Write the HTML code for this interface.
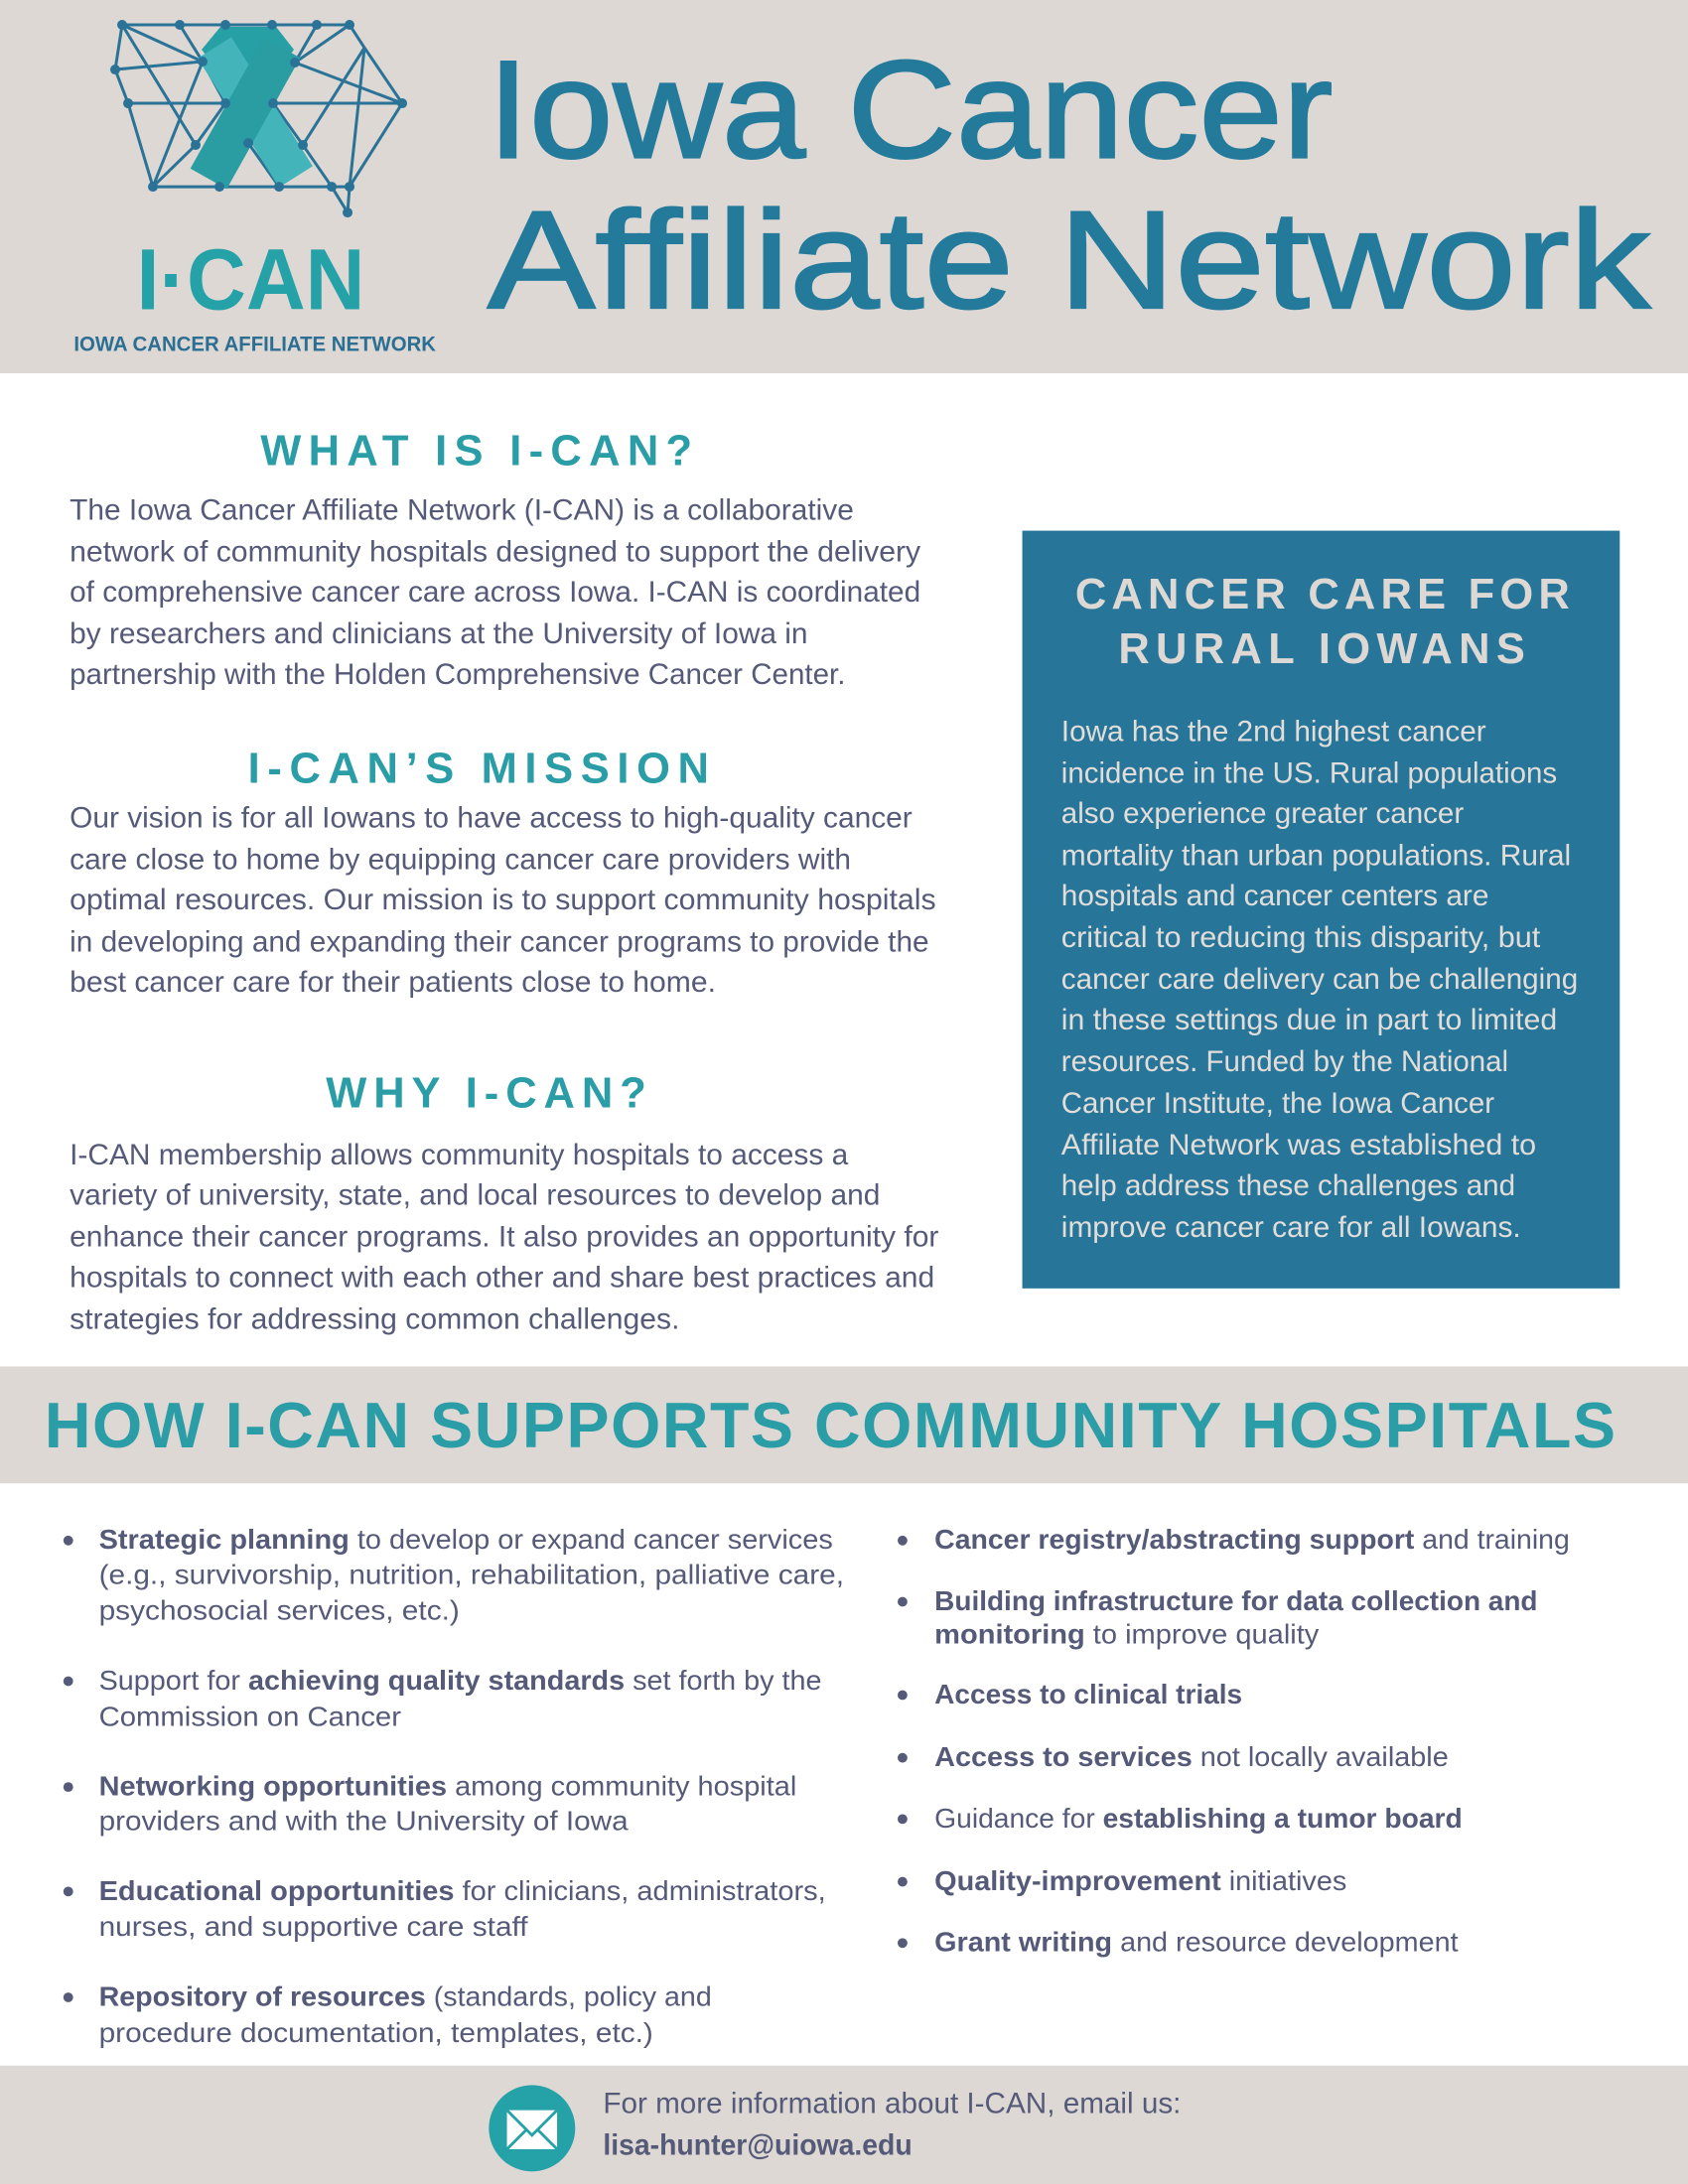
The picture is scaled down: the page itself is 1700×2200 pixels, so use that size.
<!DOCTYPE html>
<html><head><meta charset="utf-8"><style>
html,body{margin:0;padding:0;background:#fff}
svg{display:block}
text{font-family:"Liberation Sans",sans-serif}
.b{fill:#555a78;font-size:21px}
.w{fill:#e2ddd9;font-size:21px}
.h{fill:#2a9da6;font-size:31px;font-weight:bold}
.bl{fill:#555a78;font-size:20px}
.k{font-weight:bold}
</style></head><body>
<svg width="1700" height="2200" viewBox="0 0 1212 1568" preserveAspectRatio="none" xmlns="http://www.w3.org/2000/svg">
<rect x="0" y="0" width="1212" height="268" fill="#ddd8d4"/>
<rect x="0" y="981" width="1212" height="84" fill="#ddd8d4"/>
<rect x="0" y="1483" width="1212" height="85" fill="#ddd8d4"/>
<rect x="734" y="381" width="429" height="544" fill="#27769a"/>

<!-- logo -->
<g transform="scale(0.713)">
<g stroke="#2a7397" stroke-width="3" fill="none">
<polyline points="123,25 181,25 227,25 274,25 319,25 352,25 367,48 405,104 352,188 281,188 221,188 154,188 129,104 116,70 123,25"/>
<line x1="123" y1="25" x2="204" y2="62"/><line x1="123" y1="25" x2="197" y2="146"/>
<line x1="181" y1="25" x2="204" y2="62"/><line x1="116" y1="70" x2="204" y2="62"/>
<line x1="204" y1="62" x2="154" y2="188"/><line x1="129" y1="104" x2="405" y2="104"/>
<line x1="319" y1="25" x2="297" y2="63"/><line x1="352" y1="25" x2="297" y2="63"/>
<line x1="297" y1="63" x2="405" y2="104"/><line x1="367" y1="48" x2="305" y2="146"/>
<line x1="367" y1="48" x2="352" y2="188"/><line x1="154" y1="188" x2="197" y2="146"/>
<line x1="197" y1="146" x2="227" y2="104"/><line x1="305" y1="146" x2="275" y2="104"/>
<line x1="305" y1="146" x2="334" y2="188"/><line x1="334" y1="188" x2="350" y2="214"/>
<line x1="352" y1="188" x2="350" y2="214"/><line x1="250" y1="144" x2="281" y2="188"/>
<line x1="250" y1="144" x2="221" y2="188"/><line x1="204" y1="62" x2="227" y2="104"/><line x1="297" y1="63" x2="275" y2="104"/>
</g>
<path d="M222,27 L278,27 L296,50 L284,66 L216,66 L203,50 Z" fill="#27a0a5"/>
<line x1="216" y1="48" x2="298" y2="178" stroke="#43b5ba" stroke-width="40"/>
<line x1="284" y1="48" x2="210" y2="180" stroke="#2a9da3" stroke-width="42"/>
<g fill="#2a7397">
<circle cx="123" cy="25" r="5"/><circle cx="181" cy="25" r="5"/><circle cx="227" cy="25" r="5"/><circle cx="274" cy="25" r="5"/><circle cx="319" cy="25" r="5"/><circle cx="352" cy="25" r="5"/>
<circle cx="116" cy="70" r="5"/><circle cx="204" cy="62" r="5"/><circle cx="297" cy="63" r="5"/>
<circle cx="129" cy="104" r="5"/><circle cx="227" cy="104" r="5"/><circle cx="275" cy="104" r="5"/><circle cx="405" cy="104" r="5"/>
<circle cx="197" cy="146" r="5"/><circle cx="250" cy="144" r="5"/><circle cx="305" cy="146" r="5"/>
<circle cx="154" cy="188" r="5"/><circle cx="221" cy="188" r="5"/><circle cx="281" cy="188" r="5"/><circle cx="334" cy="188" r="5"/><circle cx="352" cy="188" r="5"/><circle cx="350" cy="214" r="5"/>
</g>
</g>
<text x="98" y="222" font-size="62" font-weight="bold" fill="#24a2a8" textLength="164" lengthAdjust="spacingAndGlyphs">I·CAN</text>
<text x="53" y="252" font-size="15" font-weight="bold" fill="#2c6f93" textLength="260" lengthAdjust="spacingAndGlyphs">IOWA CANCER AFFILIATE NETWORK</text>

<text x="350" y="113" font-size="100" fill="#237a9b" stroke="#237a9b" stroke-width="1.5" textLength="607" lengthAdjust="spacingAndGlyphs">Iowa Cancer</text>
<text x="350" y="221" font-size="100" fill="#237a9b" stroke="#237a9b" stroke-width="1.5" textLength="835" lengthAdjust="spacingAndGlyphs">Affiliate Network</text>

<text class="h" x="187" y="334" textLength="310" lengthAdjust="spacing">WHAT IS I-CAN?</text>
<text class="b" x="50" y="373" textLength="563" lengthAdjust="spacingAndGlyphs">The Iowa Cancer Affiliate Network (I-CAN) is a collaborative</text>
<text class="b" x="50" y="403" textLength="611" lengthAdjust="spacingAndGlyphs">network of community hospitals designed to support the delivery</text>
<text class="b" x="50" y="432" textLength="611" lengthAdjust="spacingAndGlyphs">of comprehensive cancer care across Iowa. I-CAN is coordinated</text>
<text class="b" x="50" y="462" textLength="530" lengthAdjust="spacingAndGlyphs">by researchers and clinicians at the University of Iowa in</text>
<text class="b" x="50" y="491" textLength="557" lengthAdjust="spacingAndGlyphs">partnership with the Holden Comprehensive Cancer Center.</text>

<text class="h" x="178" y="562" textLength="331" lengthAdjust="spacing">I-CAN’S MISSION</text>
<text class="b" x="50" y="594" textLength="605" lengthAdjust="spacingAndGlyphs">Our vision is for all Iowans to have access to high-quality cancer</text>
<text class="b" x="50" y="624" textLength="561" lengthAdjust="spacingAndGlyphs">care close to home by equipping cancer care providers with</text>
<text class="b" x="50" y="653" textLength="622" lengthAdjust="spacingAndGlyphs">optimal resources. Our mission is to support community hospitals</text>
<text class="b" x="50" y="683" textLength="617" lengthAdjust="spacingAndGlyphs">in developing and expanding their cancer programs to provide the</text>
<text class="b" x="50" y="712" textLength="464" lengthAdjust="spacingAndGlyphs">best cancer care for their patients close to home.</text>

<text class="h" x="234" y="795" textLength="230" lengthAdjust="spacing">WHY I-CAN?</text>
<text class="b" x="50" y="836" textLength="559" lengthAdjust="spacingAndGlyphs">I-CAN membership allows community hospitals to access a</text>
<text class="b" x="50" y="865" textLength="582" lengthAdjust="spacingAndGlyphs">variety of university, state, and local resources to develop and</text>
<text class="b" x="50" y="895" textLength="624" lengthAdjust="spacingAndGlyphs">enhance their cancer programs. It also provides an opportunity for</text>
<text class="b" x="50" y="924" textLength="621" lengthAdjust="spacingAndGlyphs">hospitals to connect with each other and share best practices and</text>
<text class="b" x="50" y="954" textLength="438" lengthAdjust="spacingAndGlyphs">strategies for addressing common challenges.</text>

<text x="772" y="437" font-size="31" font-weight="bold" fill="#ddd8d4" textLength="355" lengthAdjust="spacing">CANCER CARE FOR</text>
<text x="803" y="476" font-size="31" font-weight="bold" fill="#ddd8d4" textLength="292" lengthAdjust="spacing">RURAL IOWANS</text>
<text class="w" x="762" y="532" textLength="305" lengthAdjust="spacingAndGlyphs">Iowa has the 2nd highest cancer</text>
<text class="w" x="762" y="562" textLength="356" lengthAdjust="spacingAndGlyphs">incidence in the US. Rural populations</text>
<text class="w" x="762" y="591" textLength="289" lengthAdjust="spacingAndGlyphs">also experience greater cancer</text>
<text class="w" x="762" y="621" textLength="366" lengthAdjust="spacingAndGlyphs">mortality than urban populations. Rural</text>
<text class="w" x="762" y="650" textLength="307" lengthAdjust="spacingAndGlyphs">hospitals and cancer centers are</text>
<text class="w" x="762" y="680" textLength="344" lengthAdjust="spacingAndGlyphs">critical to reducing this disparity, but</text>
<text class="w" x="762" y="710" textLength="371" lengthAdjust="spacingAndGlyphs">cancer care delivery can be challenging</text>
<text class="w" x="762" y="739" textLength="356" lengthAdjust="spacingAndGlyphs">in these settings due in part to limited</text>
<text class="w" x="762" y="769" textLength="321" lengthAdjust="spacingAndGlyphs">resources. Funded by the National</text>
<text class="w" x="762" y="799" textLength="311" lengthAdjust="spacingAndGlyphs">Cancer Institute, the Iowa Cancer</text>
<text class="w" x="762" y="829" textLength="341" lengthAdjust="spacingAndGlyphs">Affiliate Network was established to</text>
<text class="w" x="762" y="858" textLength="326" lengthAdjust="spacingAndGlyphs">help address these challenges and</text>
<text class="w" x="762" y="888" textLength="330" lengthAdjust="spacingAndGlyphs">improve cancer care for all Iowans.</text>

<text x="32" y="1039" font-size="46" font-weight="bold" fill="#2a9da6" textLength="1128" lengthAdjust="spacing">HOW I-CAN SUPPORTS COMMUNITY HOSPITALS</text>

<g fill="#555a78">
<circle cx="49" cy="1106" r="3.5"/><circle cx="49" cy="1207" r="3.5"/><circle cx="49" cy="1283" r="3.5"/><circle cx="49" cy="1358" r="3.5"/><circle cx="49" cy="1434" r="3.5"/>
<circle cx="648" cy="1106" r="3.5"/><circle cx="648" cy="1150" r="3.5"/><circle cx="648" cy="1217" r="3.5"/><circle cx="648" cy="1262" r="3.5"/><circle cx="648" cy="1306" r="3.5"/><circle cx="648" cy="1351" r="3.5"/><circle cx="648" cy="1395" r="3.5"/>
</g>
<text class="bl" x="71" y="1112" textLength="527" lengthAdjust="spacingAndGlyphs"><tspan class="k">Strategic planning</tspan> to develop or expand cancer services</text>
<text class="bl" x="71" y="1137" textLength="535" lengthAdjust="spacingAndGlyphs">(e.g., survivorship, nutrition, rehabilitation, palliative care,</text>
<text class="bl" x="71" y="1163" textLength="259" lengthAdjust="spacingAndGlyphs">psychosocial services, etc.)</text>
<text class="bl" x="71" y="1213" textLength="519" lengthAdjust="spacingAndGlyphs">Support for <tspan class="k">achieving quality standards</tspan> set forth by the</text>
<text class="bl" x="71" y="1239" textLength="217" lengthAdjust="spacingAndGlyphs">Commission on Cancer</text>
<text class="bl" x="71" y="1289" textLength="501" lengthAdjust="spacingAndGlyphs"><tspan class="k">Networking opportunities</tspan> among community hospital</text>
<text class="bl" x="71" y="1314" textLength="380" lengthAdjust="spacingAndGlyphs">providers and with the University of Iowa</text>
<text class="bl" x="71" y="1364" textLength="522" lengthAdjust="spacingAndGlyphs"><tspan class="k">Educational opportunities</tspan> for clinicians, administrators,</text>
<text class="bl" x="71" y="1390" textLength="308" lengthAdjust="spacingAndGlyphs">nurses, and supportive care staff</text>
<text class="bl" x="71" y="1440" textLength="440" lengthAdjust="spacingAndGlyphs"><tspan class="k">Repository of resources</tspan> (standards, policy and</text>
<text class="bl" x="71" y="1466" textLength="398" lengthAdjust="spacingAndGlyphs">procedure documentation, templates, etc.)</text>

<text class="bl" x="671" y="1112" textLength="456" lengthAdjust="spacingAndGlyphs"><tspan class="k">Cancer registry/abstracting support</tspan> and training</text>
<text class="bl" x="671" y="1156" textLength="433" lengthAdjust="spacingAndGlyphs" font-weight="bold">Building infrastructure for data collection and</text>
<text class="bl" x="671" y="1180" textLength="276" lengthAdjust="spacingAndGlyphs"><tspan class="k">monitoring</tspan> to improve quality</text>
<text class="bl" x="671" y="1223" textLength="221" lengthAdjust="spacingAndGlyphs" font-weight="bold">Access to clinical trials</text>
<text class="bl" x="671" y="1268" textLength="369" lengthAdjust="spacingAndGlyphs"><tspan class="k">Access to services</tspan> not locally available</text>
<text class="bl" x="671" y="1312" textLength="379" lengthAdjust="spacingAndGlyphs">Guidance for <tspan class="k">establishing a tumor board</tspan></text>
<text class="bl" x="671" y="1357" textLength="296" lengthAdjust="spacingAndGlyphs"><tspan class="k">Quality-improvement</tspan> initiatives</text>
<text class="bl" x="671" y="1401" textLength="376" lengthAdjust="spacingAndGlyphs"><tspan class="k">Grant writing</tspan> and resource development</text>

<circle cx="382" cy="1528" r="31" fill="#24a2a8"/>
<rect x="364" y="1515" width="36" height="28" fill="#fff"/>
<path d="M364,1515 L382,1533 L400,1515 M364,1543 L378,1529 M400,1543 L386,1529" stroke="#24a2a8" stroke-width="2" fill="none"/>
<text class="b" x="433" y="1517" textLength="415" lengthAdjust="spacingAndGlyphs">For more information about I-CAN, email us:</text>
<text class="b k" x="433" y="1547" textLength="222" lengthAdjust="spacingAndGlyphs">lisa-hunter@uiowa.edu</text>
</svg>
</body></html>
